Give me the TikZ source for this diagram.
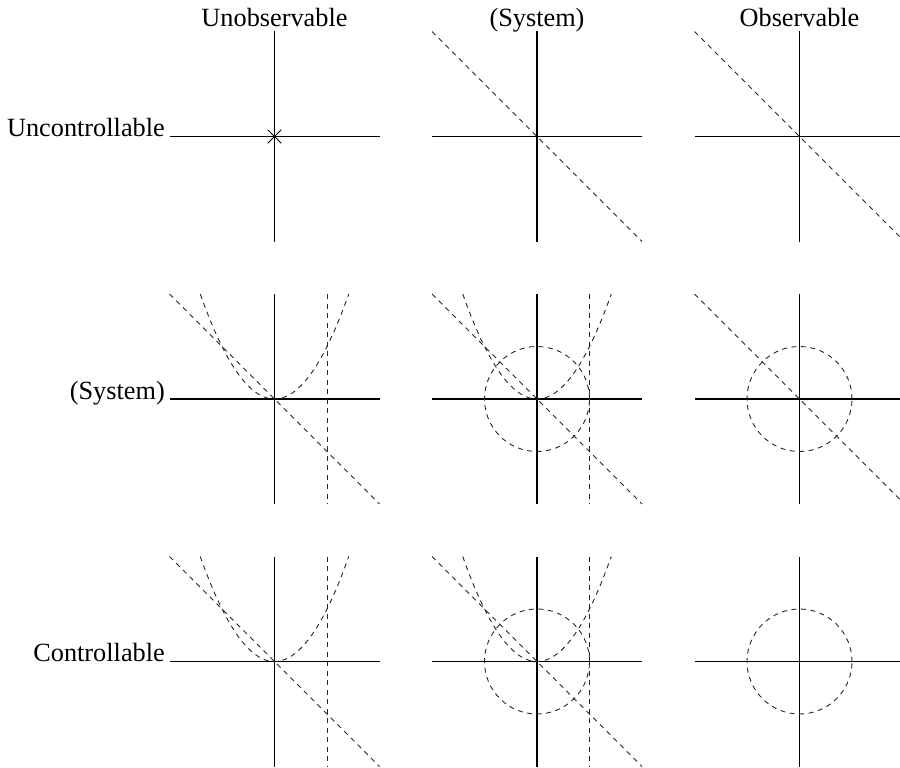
\documentclass[tikz,border=0pt]{standalone}
\usepackage{fontspec}
\setmainfont{Liberation Serif}
\begin{document}
\begin{tikzpicture}[x=1pt,y=-1pt,
  axisline/.style={line width=1.2pt,black},
  dsh/.style={line width=0.9pt,black!85,dash pattern=on 5pt off 4.5pt},
  lbl/.style={font=\fontsize{26.3}{30}\selectfont,inner sep=0pt}]
\useasboundingbox (0,0) rectangle (900,768);
% labels
\node[lbl,anchor=base] (cu) at (274.5,26.7) {Unobservable};
\node[lbl,anchor=base] (cs) at (537,26.7) {(System)};
\node[lbl,anchor=base] (co) at (799.5,26.7) {Observable};
\node[lbl,anchor=base east] (ru) at (165,136.5) {Uncontrollable};
\node[lbl,anchor=base east] (rs) at (165,399) {(System)};
\node[lbl,anchor=base east] (rc) at (165,661.5) {Controllable};
% panels
\foreach \cx in {274.5,537,799.5}{
  \foreach \cy in {136.5,399,661.5}{
    \begin{scope}[shift={(\cx,\cy)},x=105pt,y=105pt]
      \draw[axisline] (-1,0) -- (1,0);
      \draw[axisline] (0,-1) -- (0,1);
    \end{scope}
  }
}
% row 1
\begin{scope}[shift={(274.5,136.5)},x=105pt,y=105pt]
  \draw[line width=0.9pt] (-0.065,-0.065) -- (0.065,0.065) (-0.065,0.065) -- (0.065,-0.065);
\end{scope}
\begin{scope}[shift={(537,136.5)},x=105pt,y=105pt]
  \draw[dsh] (-1,1) -- (1,-1);
\end{scope}
\begin{scope}[shift={(799.5,136.5)},x=105pt,y=105pt]
  \draw[dsh] (-1,1) -- (1,-1);
\end{scope}
% rows 2 and 3, column 1 and 2
\foreach \cy in {399,661.5}{
  \foreach \cx in {274.5,537}{
    \begin{scope}[shift={(\cx,\cy)},x=105pt,y=105pt]
      \draw[dsh] (-1,1) -- (1,-1);
      \draw[dsh] plot[domain=-0.7071:0.7071,samples=80,smooth] (\x,{2*\x*\x});
      \draw[dsh] (0.5,1) -- (0.5,-1);
    \end{scope}
  }
  \begin{scope}[shift={(537,\cy)},x=105pt,y=105pt]
    \draw[dsh] (0,0) circle[radius=0.5];
  \end{scope}
  \begin{scope}[shift={(799.5,\cy)},x=105pt,y=105pt]
    \draw[dsh] (0,0) circle[radius=0.5];
  \end{scope}
}
\begin{scope}[shift={(799.5,399)},x=105pt,y=105pt]
  \draw[dsh] (-1,1) -- (1,-1);
\end{scope}
\end{tikzpicture}
\end{document}
